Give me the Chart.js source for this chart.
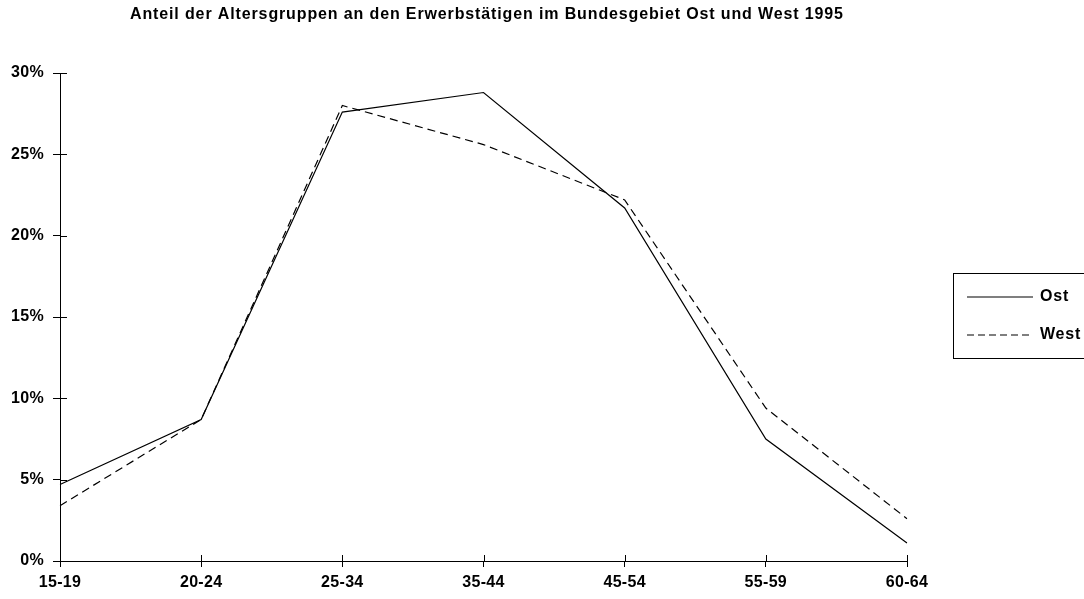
<!DOCTYPE html>
<html>
<head>
<meta charset="utf-8">
<script src="https://cdn.jsdelivr.net/npm/chart.js@4.4.1/dist/chart.umd.min.js"></script>
<style>
  html, body { margin: 0; padding: 0; background: #fff; overflow: hidden; }
  #wrap { position: relative; width: 1084px; height: 599px; }
  #legend { position: absolute; left: 953px; top: 273px; width: 140px; height: 86px;
            border: 1px solid #000; box-sizing: border-box; font: bold 16px "Liberation Sans", Arial, sans-serif; letter-spacing: 0.8px; color: #000; }
  .item { position: absolute; left: 13px; height: 16px; }
  .item svg { position: absolute; left: 0; top: 0; }
  .item span { position: absolute; left: 73px; top: -2px; white-space: nowrap; }
</style>
</head>
<body>
<div id="wrap">
  <canvas id="c" width="1084" height="599"></canvas>
  <div id="legend">
    <div class="item" style="top:15px"><svg width="66" height="16"><line x1="0" y1="8" x2="66" y2="8" stroke="#000" stroke-width="1.2"/></svg><span>Ost</span></div>
    <div class="item" style="top:53px"><svg width="66" height="16"><line x1="0" y1="8" x2="66" y2="8" stroke="#000" stroke-width="1.2" stroke-dasharray="7,4"/></svg><span>West</span></div>
  </div>
</div>
<script>
const title = "Anteil der Altersgruppen an den Erwerbstätigen im Bundesgebiet Ost und West 1995";
const categories = ["15-19", "20-24", "25-34", "35-44", "45-54", "55-59", "60-64"];
const ostValues  = [4.7, 8.7, 27.6, 28.8, 21.7, 7.5, 1.1];
const westValues = [3.4, 8.7, 28.0, 25.6, 22.2, 9.4, 2.6];
const yTicks = [0, 5, 10, 15, 20, 25, 30];

const FONT = '"Liberation Sans", Arial, sans-serif';

const spacing = {
  id: 'spacing',
  beforeUpdate(chart) { chart.ctx.letterSpacing = '0.3px'; },
  beforeDraw(chart) { chart.ctx.letterSpacing = '0.3px'; }
};

const crossTicks = {
  id: 'crossTicks',
  afterDraw(chart) {
    const ctx = chart.ctx, a = chart.chartArea;
    const x = chart.scales.x, y = chart.scales.y;
    ctx.save();
    ctx.strokeStyle = '#000';
    ctx.lineWidth = 1;
    ctx.beginPath();
    y.ticks.forEach((t, i) => {
      const py = Math.round(y.getPixelForTick(i)) + 0.5;
      ctx.moveTo(a.left, py); ctx.lineTo(a.left + 7, py);
    });
    x.ticks.forEach((t, i) => {
      const px = Math.round(x.getPixelForTick(i)) + 0.5;
      ctx.moveTo(px, a.bottom); ctx.lineTo(px, a.bottom - 6);
    });
    ctx.stroke();
    // title
    ctx.fillStyle = '#000';
    ctx.font = 'bold 16px ' + FONT;
    ctx.letterSpacing = '0px';
    const w = ctx.measureText(title).width;
    const target = 713;
    const ls = (target - w) / (title.length - 1);
    ctx.letterSpacing = ls + 'px';
    ctx.textAlign = 'left';
    ctx.textBaseline = 'alphabetic';
    ctx.fillText(title, 130, 19);
    ctx.restore();
  }
};

new Chart(document.getElementById('c'), {
  type: 'line',
  data: {
    labels: categories,
    datasets: [
      { label: 'Ost', data: ostValues, borderColor: '#000', borderWidth: 1.2, pointRadius: 0, tension: 0, fill: false },
      { label: 'West', data: westValues, borderColor: '#000', borderWidth: 1.2, borderDash: [8, 5], pointRadius: 0, tension: 0, fill: false }
    ]
  },
  options: {
    responsive: false,
    animation: false,
    layout: { padding: { top: 73, right: 177, left: 0, bottom: 0 } },
    plugins: { legend: { display: false }, title: { display: false }, tooltip: { enabled: false } },
    scales: {
      x: {
        offset: false,
        afterFit(s) { s.height = 38; },
        grid: { drawOnChartArea: false, color: '#000', tickLength: 6, tickColor: '#000' },
        border: { color: '#000', width: 1 },
        ticks: { color: '#000', font: { family: FONT, size: 16, weight: 'bold' }, padding: 6, maxRotation: 0, autoSkip: false }
      },
      y: {
        min: 0, max: 30,
        afterFit(s) { s.width = 60; },
        afterBuildTicks(s) { s.ticks = yTicks.map(v => ({ value: v })); },
        grid: { drawOnChartArea: false, color: '#000', tickLength: 7, tickColor: '#000' },
        border: { color: '#000', width: 1 },
        ticks: { color: '#000', font: { family: FONT, size: 16, weight: 'bold' }, padding: 9, callback: v => v + '%' }
      }
    }
  },
  plugins: [spacing, crossTicks]
});
</script>
</body>
</html>
